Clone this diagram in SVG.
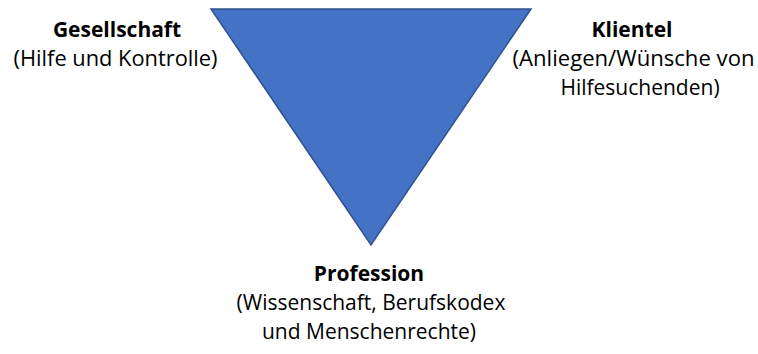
<svg xmlns="http://www.w3.org/2000/svg" width="758" height="354" viewBox="0 0 758 354">
<style>
text{font-family:"Open Sans","Liberation Sans",sans-serif;font-size:21px;fill:#000;text-anchor:middle}
.b{font-weight:bold}
</style>
<rect width="758" height="354" fill="#fff"/>
<g id="triangle">
<polygon points="211,9 531,9 371,245" fill="#4472C4" stroke="#2F528F" stroke-width="1.5" stroke-linejoin="miter"/>
</g>
<g id="gesellschaft">
<text class="b" x="117" y="37">Gesellschaft</text>
<text x="115.5" y="66" textLength="204" lengthAdjust="spacingAndGlyphs">(Hilfe und Kontrolle)</text>
</g>
<g id="klientel">
<text class="b" x="632" y="37">Klientel</text>
<text x="633.5" y="66" textLength="242" lengthAdjust="spacingAndGlyphs">(Anliegen/Wünsche von</text>
<text x="640" y="95">Hilfesuchenden)</text>
</g>
<g id="profession">
<text class="b" x="369" y="281">Profession</text>
<text x="371" y="310">(Wissenschaft, Berufskodex</text>
<text x="369" y="339">und Menschenrechte)</text>
</g>
</svg>
